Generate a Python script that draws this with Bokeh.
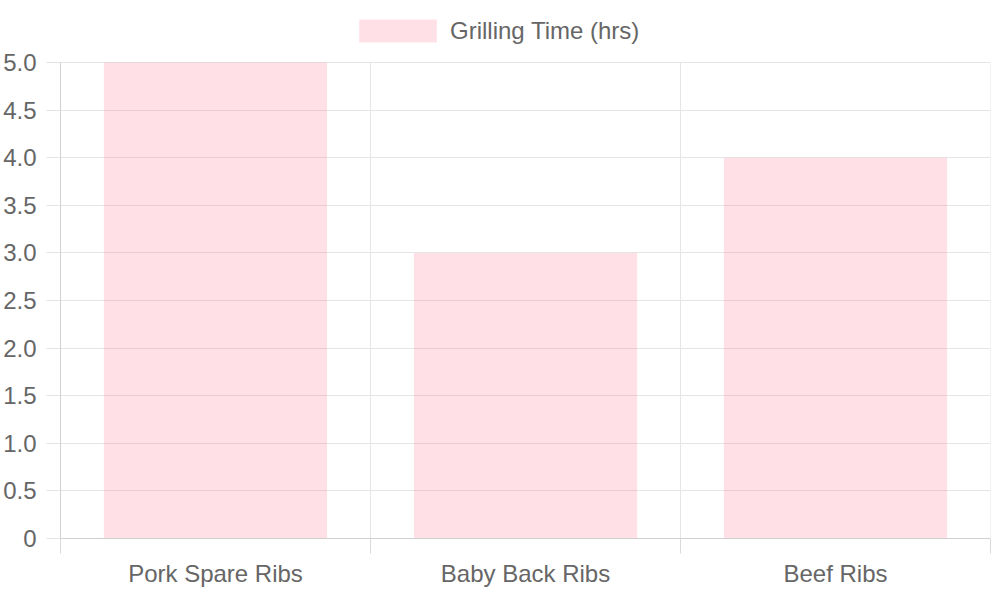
from bokeh.plotting import figure
from bokeh.models import FixedTicker, Legend, LegendItem, Range1d
from bokeh.embed import file_html
from bokeh.resources import INLINE

cortes = ["Pork Spare Ribs", "Baby Back Ribs", "Beef Ribs"]
horas = [5, 3, 4]
serie = "Grilling Time (hrs)"
y_ticks = [0, 0.5, 1, 1.5, 2, 2.5, 3, 3.5, 4, 4.5, 5]

fuente = "Liberation Sans"
gris = "#666666"
linea = "#e5e5e5"
tam = "24px"

# cada categoria ocupa una franja de ancho 1, la barra va al centro
centros = [i + 0.5 for i in range(len(cortes))]
bordes = list(range(len(cortes) + 1))

# el frame se alarga hacia arriba para dejar sitio a la leyenda
alto_datos = 476
hueco = 53
alto_frame = alto_datos + hueco
y_max = max(y_ticks)
y_top = y_max * alto_frame / alto_datos

p = figure(frame_width=930, frame_height=alto_frame, output_backend="svg", toolbar_location=None,
           x_range=Range1d(0, len(cortes)), y_range=Range1d(0, y_top),
           min_border_left=4, min_border_right=1, min_border_top=9, min_border_bottom=1)
p.outline_line_color = None

# lineas verticales entre categorias, solo hasta el maximo del eje
p.segment(x0=bordes, y0=[0] * len(bordes), x1=bordes, y1=[y_max] * len(bordes),
          line_color=linea, line_width=1)

barras = p.vbar(x=centros, top=horas, width=0.72, fill_color="#ff6384",
                fill_alpha=0.2, line_color=None)

# eje x
p.xaxis.ticker = FixedTicker(ticks=centros, minor_ticks=bordes)
p.xaxis.major_label_overrides = {c: n for c, n in zip(centros, cortes)}
p.xaxis.major_tick_line_color = None
p.xaxis.minor_tick_line_color = "#d9d9d9"
p.xaxis.minor_tick_in = 0
p.xaxis.minor_tick_out = 15
p.xaxis.major_label_standoff = 6
p.xgrid.grid_line_color = None

# eje y
p.yaxis.ticker = FixedTicker(ticks=y_ticks)
p.yaxis.bounds = (0, y_max)
p.yaxis.major_label_overrides = {t: ("0" if t == 0 else f"{t:.1f}") for t in y_ticks}
p.yaxis.major_tick_line_color = "#e3e3e3"
p.yaxis.major_tick_in = 0
p.yaxis.major_tick_out = 14
p.yaxis.minor_tick_line_color = None
p.yaxis.major_label_standoff = 10
p.ygrid.grid_line_color = linea

for eje in (p.xaxis, p.yaxis):
    eje.axis_line_color = "#d0d0d0"
    eje.major_label_text_font = fuente
    eje.major_label_text_font_size = tam
    eje.major_label_text_color = gris

# leyenda en la franja libre de arriba
# (bokeh encoge el cuadro de color un 10% por lado)
alto_ley = 29
leyenda = Legend(items=[LegendItem(label=serie, renderers=[barras])],
                 orientation="horizontal", location=(289, alto_frame - 7 - alto_ley),
                 border_line_color=None, background_fill_alpha=0,
                 glyph_width=97, glyph_height=alto_ley, label_height=alto_ley, label_standoff=4,
                 label_text_font=fuente, label_text_font_size=tam,
                 label_text_color=gris, padding=0, margin=0)
p.add_layout(leyenda)

open("out.html", "w").write(file_html(p, INLINE))
